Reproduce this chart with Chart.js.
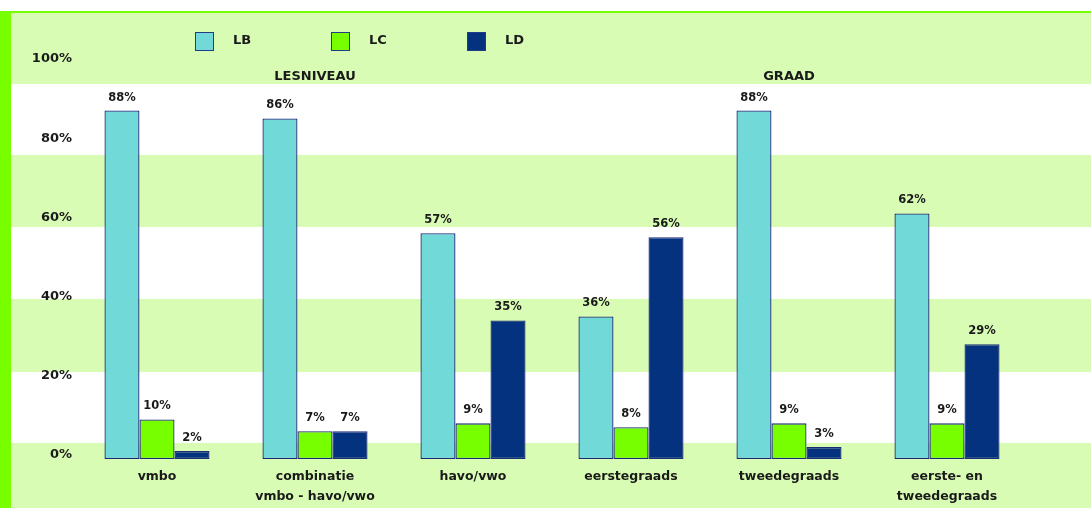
<!DOCTYPE html>
<html>
<head>
<meta charset="utf-8">
<script src="https://cdn.jsdelivr.net/npm/chart.js@4.4.0/dist/chart.umd.min.js"></script>
<style>
  html, body { margin: 0; padding: 0; }
  #wrap {
    position: relative;
    width: 1091px;
    height: 508px;
    background: linear-gradient(to bottom,
      #ffffff 0px, #ffffff 11px,
      #77ff00 11px, #77ff00 13px,
      #d8fcb4 13px, #d8fcb4 84px,
      #ffffff 84px, #ffffff 155px,
      #d8fcb4 155px, #d8fcb4 227px,
      #ffffff 227px, #ffffff 299px,
      #d8fcb4 299px, #d8fcb4 372px,
      #ffffff 372px, #ffffff 443px,
      #d8fcb4 443px, #d8fcb4 508px);
  }
  #leftbar {
    position: absolute; left: 0; top: 11px; width: 11px; height: 497px;
    background: #77ff00;
  }
  #legend { position: absolute; left: 0; top: 0; }
  .item { position: absolute; top: 32px; height: 19px; }
  .box {
    position: absolute; left: 0; top: 0; width: 17px; height: 17px;
    border: 1px solid #233a86;
  }
  .lbl {
    position: absolute; left: 38px; top: 0; line-height: 19px;
    font: bold 13px "DejaVu Sans", sans-serif; color: #1a1a1a;
  }
  canvas { position: absolute; left: 0; top: 0; }
</style>
</head>
<body>
<div id="wrap">
  <div id="leftbar"></div>
  <canvas id="myChart" width="1091" height="508"></canvas>
  <div id="legend"></div>
</div>
<script>
var categories = ['vmbo', ['combinatie', 'vmbo - havo/vwo'], 'havo/vwo', 'eerstegraads', 'tweedegraads', ['eerste- en', 'tweedegraads']];
var seriesNames = ['LB', 'LC', 'LD'];
var lbValues = [88, 86, 57, 36, 88, 62];
var lcValues = [10, 7, 9, 8, 9, 9];
var ldValues = [2, 7, 35, 56, 3, 29];
var seriesColors = ['#72d9d9', '#77ff00', '#04327e'];
var yTicks = [0, 20, 40, 60, 80, 100];
var sectionTitles = ['LESNIVEAU', 'GRAAD'];
var sectionAt = [1, 4];

var font = '"DejaVu Sans", sans-serif';

// legend in html so the spacing matches
var legend = document.getElementById('legend');
seriesNames.forEach(function (name, i) {
    var item = document.createElement('div');
    item.className = 'item';
    item.style.left = (195 + i * 136) + 'px';
    item.innerHTML = '<div class="box" style="background:' + seriesColors[i] + '"></div><div class="lbl">' + name + '</div>';
    legend.appendChild(item);
});

var valueLabels = {
    id: 'valueLabels',
    afterDatasetsDraw: function (chart) {
        var ctx = chart.ctx;
        ctx.save();
        ctx.font = 'bold 11.5px ' + font;
        ctx.fillStyle = '#1a1a1a';
        ctx.textAlign = 'center';
        ctx.textBaseline = 'middle';
        chart.data.datasets.forEach(function (ds, di) {
            chart.getDatasetMeta(di).data.forEach(function (bar, i) {
                ctx.fillText(ds.data[i] + '%', bar.x, bar.y - 13);
            });
        });
        // section titles
        ctx.font = 'bold 13px ' + font;
        sectionTitles.forEach(function (t, i) {
            ctx.fillText(t, chart.scales.x.getPixelForValue(sectionAt[i]), 77);
        });
        ctx.restore();
    }
};

var data = {
    labels: categories,
    datasets: [lbValues, lcValues, ldValues].map(function (vals, i) {
        return {
            label: seriesNames[i],
            data: vals,
            backgroundColor: seriesColors[i],
            borderColor: '#1a2b78',
            borderWidth: 1.3,
            borderSkipped: false,
            categoryPercentage: 0.665,
            barPercentage: 1
        };
    })
};

var config = {
    type: 'bar',
    data: data,
    options: {
        responsive: false,
        animation: false,
        layout: { padding: { top: 63, right: 65, bottom: 0, left: 0 } },
        plugins: {
            legend: { display: false },
            tooltip: { enabled: false }
        },
        scales: {
            x: {
                grid: { display: false, drawTicks: false },
                border: { display: false },
                ticks: {
                    color: '#1a1a1a',
                    padding: 8,
                    maxRotation: 0,
                    autoSkip: false,
                    font: { family: font, weight: 'bold', size: 12.5, lineHeight: 1.6 }
                },
                afterFit: function (s) { s.height = 49; }
            },
            y: {
                min: 0,
                max: 100,
                afterBuildTicks: function (s) {
                    s.ticks = yTicks.map(function (v) { return { value: v }; });
                },
                grid: { display: false, drawTicks: false },
                border: { display: false },
                ticks: {
                    color: '#1a1a1a',
                    padding: 6,
                    labelOffset: -4,
                    font: { family: font, weight: 'bold', size: 13 },
                    callback: function (v) { return v + '%'; }
                },
                afterFit: function (s) { s.width = 78; }
            }
        }
    },
    plugins: [valueLabels]
};

const myChart = new Chart(
    document.getElementById('myChart'),
    config
);
</script>
</body>
</html>
